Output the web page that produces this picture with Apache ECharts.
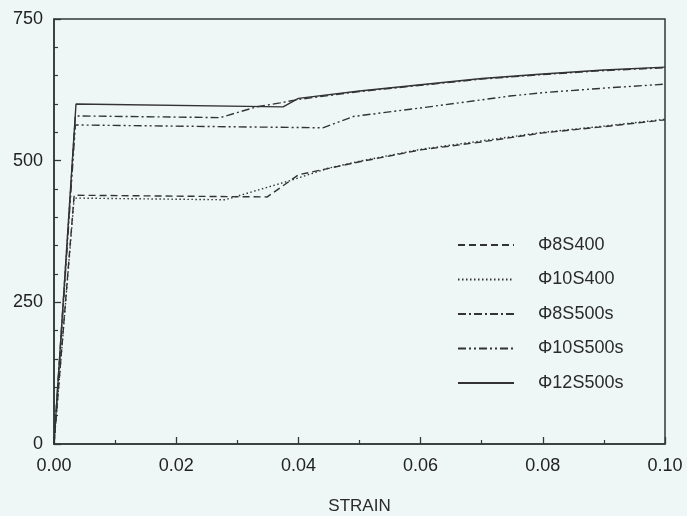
<!DOCTYPE html>
<html>
<head>
<meta charset="utf-8">
<script src="https://cdn.jsdelivr.net/npm/echarts@6/dist/echarts.min.js"></script>
<style>
  html, body { margin: 0; padding: 0; background: #eef7f5; }
  #chart { width: 687px; height: 516px; }
</style>
</head>
<body>
<div id="chart"></div>
<script>
// stress-strain curves
var names = ['Φ8S400', 'Φ10S400', 'Φ8S500s', 'Φ10S500s', 'Φ12S500s'];

var strain8S400 = [0, 0.0033, 0.0349, 0.040, 0.050, 0.060, 0.070, 0.080, 0.090, 0.100];
var stress8S400 = [0, 439, 436, 475, 498, 519, 533, 549, 560, 572];

var strain10S400 = [0, 0.0033, 0.028, 0.0387, 0.045, 0.050, 0.060, 0.070, 0.080, 0.090, 0.100];
var stress10S400 = [0, 434, 431, 465, 487, 499, 520, 535, 550, 561, 573];

var strain8S500 = [0, 0.0035, 0.0272, 0.0332, 0.037, 0.040, 0.050, 0.060, 0.070, 0.080, 0.090, 0.100];
var stress8S500 = [0, 579, 576, 595, 602, 608, 622, 633, 644, 652, 659, 664];

var strain10S500 = [0, 0.0035, 0.044, 0.049, 0.060, 0.0746, 0.080, 0.090, 0.100];
var stress10S500 = [0, 563, 558, 578, 593, 614, 620, 628, 635];

var strain12S500 = [0, 0.0036, 0.0375, 0.040, 0.050, 0.060, 0.070, 0.080, 0.090, 0.100];
var stress12S500 = [0, 600, 595, 610, 623, 634, 645, 653, 660, 665];

var dashes = [[7, 4], [1.5, 2.5], [8, 3, 2, 3], [8, 3, 2, 3, 2, 3], 'solid'];

function pairs(xs, ys) {
  var out = [];
  for (var i = 0; i < xs.length; i++) out.push([xs[i], ys[i]]);
  return out;
}

var curves = [
  pairs(strain8S400, stress8S400),
  pairs(strain10S400, stress10S400),
  pairs(strain8S500, stress8S500),
  pairs(strain10S500, stress10S500),
  pairs(strain12S500, stress12S500)
];

var ink = '#2f3a36';
var font = 'Liberation Sans';

var series = [];
for (var i = 0; i < names.length; i++) {
  series.push({
    name: names[i],
    type: 'line',
    data: curves[i],
    symbol: 'none',
    lineStyle: { color: '#333', width: 1.4, type: dashes[i] },
    itemStyle: { color: '#333' }
  });
}

var chart = echarts.init(document.getElementById('chart'));
chart.setOption({
  backgroundColor: '#eef7f5',
  animation: false,
  grid: {
    left: 54, right: 22, top: 19, bottom: 72,
    outerBoundsMode: 'none',
    show: true, borderColor: ink, borderWidth: 1.5
  },
  legend: {
    orient: 'vertical',
    left: 452, top: 231,
    itemWidth: 56, itemHeight: 14, itemGap: 16.5,
    itemStyle: { opacity: 0 },
    textStyle: { fontFamily: font, fontSize: 18, color: '#2a2a2a', padding: [0, 0, 0, 19] },
    data: names
  },
  xAxis: {
    type: 'value',
    min: 0, max: 0.1, interval: 0.02,
    name: 'STRAIN',
    nameLocation: 'middle',
    nameGap: 54,
    nameTextStyle: { fontFamily: font, fontSize: 17, color: '#2a2a2a' },
    axisLine: { lineStyle: { color: ink, width: 1.5 } },
    axisTick: { inside: true, length: 7, lineStyle: { color: ink, width: 1.3 } },
    minorTick: { show: true, splitNumber: 2, length: 4, lineStyle: { color: ink, width: 1.2 } },
    splitLine: { show: false },
    axisLabel: {
      margin: 13, fontFamily: font, fontSize: 18, color: '#222',
      formatter: function (v) { return v.toFixed(2); }
    }
  },
  yAxis: {
    type: 'value',
    min: 0, max: 750, interval: 250,
    axisLine: { show: true, lineStyle: { color: ink, width: 1.5 } },
    axisTick: { show: true, inside: true, length: 7, lineStyle: { color: ink, width: 1.3 } },
    minorTick: { show: true, splitNumber: 5, length: 4, lineStyle: { color: ink, width: 1.2 } },
    splitLine: { show: false },
    axisLabel: { margin: 11, fontFamily: font, fontSize: 18, color: '#222' }
  },
  series: series
});
</script>
</body>
</html>
